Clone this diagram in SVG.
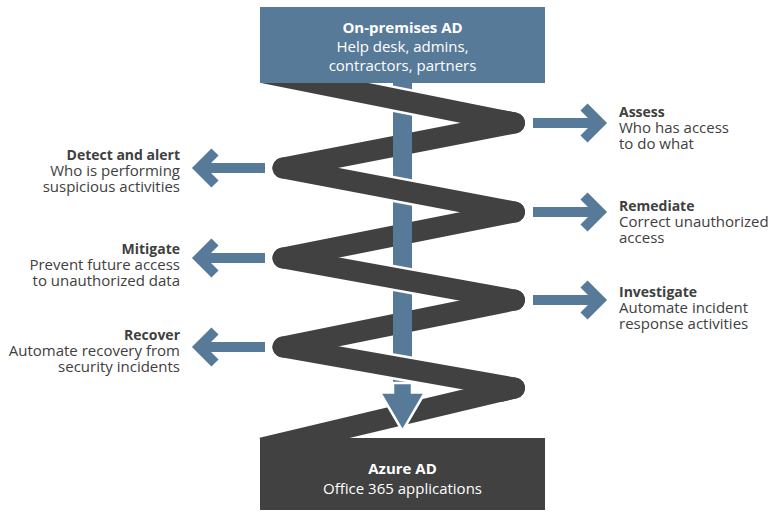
<svg xmlns="http://www.w3.org/2000/svg" width="776" height="512" viewBox="0 0 776 512">
<defs>
<style>
.zz{fill:none;stroke:#414141;stroke-width:21;stroke-linecap:round;stroke-linejoin:round}
.gap{fill:none;stroke:#ffffff;stroke-width:26;stroke-linecap:butt}
.blue{fill:#587a99}
.arw{fill:none;stroke:#587a99;stroke-width:10;stroke-linecap:butt;stroke-linejoin:miter}
.t{font-family:"Open Sans","Liberation Sans",sans-serif;font-size:15px;fill:#404040}
.b{font-weight:bold;font-size:14px}
.bx{font-family:"Open Sans","Liberation Sans",sans-serif;font-size:15px;fill:#ffffff;text-anchor:middle}
.bb{font-weight:bold}
.r{text-anchor:end}
</style>
</defs>
<rect width="776" height="512" fill="#ffffff"/>
<g id="connectors">
  <line class="zz" x1="514.5" y1="123" x2="283" y2="168"/>
  <line class="zz" x1="514.5" y1="212" x2="283" y2="258"/>
  <line class="zz" x1="514.5" y1="300" x2="283" y2="347"/>
  <line class="zz" x1="514.5" y1="388" x2="262" y2="448" style="stroke-linecap:butt"/>
  <line class="zz" x1="514.5" y1="388" x2="500" y2="391.5"/>
  <rect class="blue" x="393" y="78" width="19" height="314"/>
  <path class="blue" d="M393,383 H412 V392.5 H425 L402.5,431 L380,392.5 H393 Z" stroke="#ffffff" stroke-width="2.5" stroke-linejoin="miter"/>
  <line class="gap" x1="384" y1="96.9" x2="421" y2="104.3"/>
  <line class="zz" x1="262" y1="72.4" x2="514.5" y2="123" style="stroke-linecap:butt"/>
  <line class="zz" x1="500" y1="120.2" x2="514.5" y2="123"/>
  <line class="gap" x1="384" y1="187.2" x2="421" y2="194.2"/>
  <line class="zz" x1="283" y1="168" x2="514.5" y2="212"/>
  <line class="gap" x1="384" y1="276.3" x2="421" y2="283"/>
  <line class="zz" x1="283" y1="258" x2="514.5" y2="300"/>
  <line class="gap" x1="384" y1="364.9" x2="421" y2="371.4"/>
  <line class="zz" x1="283" y1="347" x2="514.5" y2="388"/>
  <g id="arrow-assess"><line class="arw" x1="533" y1="123" x2="600" y2="123"/><polyline class="arw" points="584,107 600,123 584,139"/></g>
  <g id="arrow-remediate"><line class="arw" x1="533" y1="212" x2="600" y2="212"/><polyline class="arw" points="584,196 600,212 584,228"/></g>
  <g id="arrow-investigate"><line class="arw" x1="533" y1="300" x2="600" y2="300"/><polyline class="arw" points="584,284 600,300 584,316"/></g>
  <g id="arrow-detect"><line class="arw" x1="265" y1="168" x2="199" y2="168"/><polyline class="arw" points="215,152 199,168 215,184"/></g>
  <g id="arrow-mitigate"><line class="arw" x1="265" y1="258" x2="199" y2="258"/><polyline class="arw" points="215,242 199,258 215,274"/></g>
  <g id="arrow-recover"><line class="arw" x1="265" y1="347" x2="199" y2="347"/><polyline class="arw" points="215,331 199,347 215,363"/></g>
</g>
<g id="onprem">
  <rect class="blue" x="260" y="7" width="285" height="76"/>
  <text class="bx"><tspan class="bb" x="402.5" y="33">On-premises AD</tspan><tspan x="402.5" y="52">Help desk, admins,</tspan><tspan x="402.5" y="71">contractors, partners</tspan></text>
</g>
<g id="azure">
  <rect x="260" y="438" width="285" height="72" fill="#414141"/>
  <text class="bx"><tspan class="bb" x="402.5" y="474">Azure AD</tspan><tspan x="402.5" y="494">Office 365 applications</tspan></text>
</g>
<g id="assess">
  <text class="t"><tspan class="b" x="619" y="117">Assess</tspan><tspan x="619" y="133">Who has access</tspan><tspan x="619" y="149">to do what</tspan></text>
</g>
<g id="remediate">
  <text class="t"><tspan class="b" x="619" y="211">Remediate</tspan><tspan x="619" y="227">Correct unauthorized</tspan><tspan x="619" y="243">access</tspan></text>
</g>
<g id="investigate">
  <text class="t"><tspan class="b" x="619" y="297">Investigate</tspan><tspan x="619" y="313">Automate incident</tspan><tspan x="619" y="329">response activities</tspan></text>
</g>
<g id="detect">
  <text class="t r"><tspan class="b" x="180" y="160">Detect and alert</tspan><tspan x="180" y="176">Who is performing</tspan><tspan x="180" y="192">suspicious activities</tspan></text>
</g>
<g id="mitigate">
  <text class="t r"><tspan class="b" x="180" y="254">Mitigate</tspan><tspan x="180" y="270">Prevent future access</tspan><tspan x="180" y="286">to unauthorized data</tspan></text>
</g>
<g id="recover">
  <text class="t r"><tspan class="b" x="180" y="340">Recover</tspan><tspan x="180" y="356">Automate recovery from</tspan><tspan x="180" y="372">security incidents</tspan></text>
</g>
</svg>
